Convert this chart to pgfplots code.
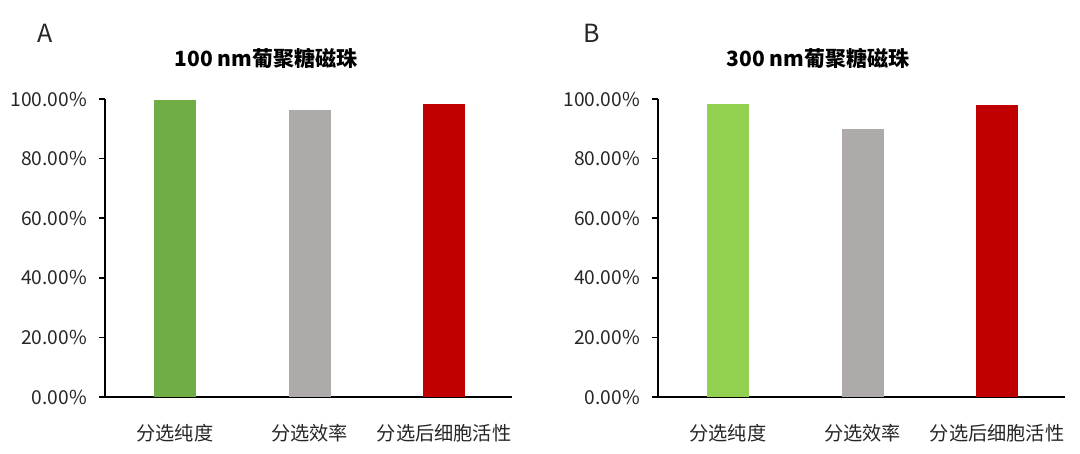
\documentclass[border=0pt]{standalone}
\usepackage{pgfplots}
\pgfplotsset{compat=1.18}
\usepackage{fontspec}
\setmainfont{Noto Sans CJK SC}
\definecolor{greenA}{HTML}{70AD47}
\definecolor{greenB}{HTML}{92D050}
\definecolor{grayBar}{HTML}{AEAAAA}
\definecolor{redBar}{HTML}{C00000}
\definecolor{tickText}{HTML}{262626}

\pgfplotsset{
  beadaxis/.style={
    scale only axis,
    width=203.5pt, height=149pt,
    anchor=south west,
    xmin=-0.52, xmax=2.505,
    ymin=0, ymax=100,
    axis x line*=bottom, axis y line*=left,
    axis line style={black, line width=1pt, -},
    xtick={0,1,2},
    xticklabels={分选纯度, 分选效率, 分选后细胞活性},
    major x tick style={draw=none},
    ytick={0,20,...,100},
    yticklabels={0.00\%,20.00\%,40.00\%,60.00\%,80.00\%,100.00\%},
    tick align=outside,
    major tick length=3pt,
    y tick style={black, line width=0.8pt},
    tick label style={font=\fontsize{9.6}{11}\selectfont, text=tickText},
    yticklabel style={xshift=-2.5pt},
    xticklabel style={yshift=-7pt},
    ybar, bar width=21pt, bar shift=0pt,
    clip=false,
  }
}

\begin{document}
\begin{tikzpicture}[x=1pt,y=1pt]
\path[use as bounding box] (0,0) rectangle (540,227);

% A: 100 nm beads
\begin{axis}[beadaxis, at={(52.5pt,28.5pt)}]
  \addplot[fill=greenA, draw=none] coordinates {(0,99.7)};
  \addplot[fill=grayBar, draw=none] coordinates {(1,96.4)};
  \addplot[fill=redBar, draw=none] coordinates {(2,98.2)};
\end{axis}

% B: 300 nm beads
\begin{axis}[beadaxis, at={(329pt,28.5pt)}]
  \addplot[fill=greenB, draw=none] coordinates {(0,98.3)};
  \addplot[fill=grayBar, draw=none] coordinates {(1,89.8)};
  \addplot[fill=redBar, draw=none] coordinates {(2,98.1)};
\end{axis}

\node[font=\bfseries\fontsize{10.5}{12}\selectfont] at (133,198) {100 nm葡聚糖磁珠};
\node[font=\bfseries\fontsize{10.5}{12}\selectfont] at (409,198) {300 nm葡聚糖磁珠};
\node[font=\fontsize{12.5}{14}\selectfont, text=tickText] at (22.5,210.5) {A};
\node[font=\fontsize{12.5}{14}\selectfont, text=tickText] at (296,210.5) {B};
\end{tikzpicture}
\end{document}
